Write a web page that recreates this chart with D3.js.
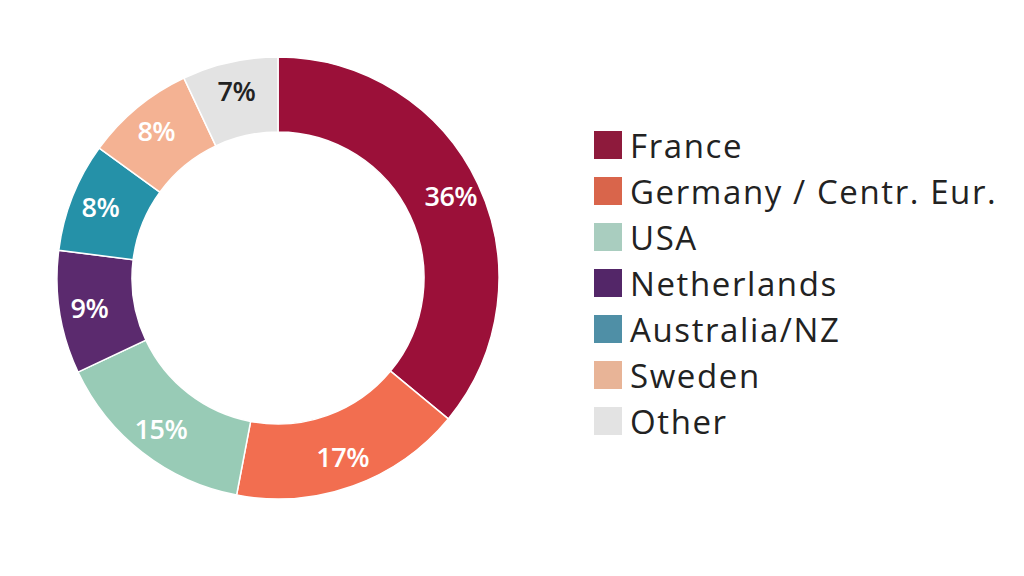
<!DOCTYPE html>
<html><head><meta charset="utf-8">
<script src="https://cdn.jsdelivr.net/npm/d3@7"></script>
<style>body{margin:0;background:#fff}</style></head>
<body><svg id="c" width="1024" height="576"></svg>
<script>
const categories=["France","Germany / Centr. Eur.","USA","Netherlands","Australia/NZ","Sweden","Other"];
const values=[36,17,15,9,8,8,7];
const colors=["#9B1039","#F26E50","#98CBB6","#5B2A6E","#2591A8","#F4B293","#E3E3E3"];
const legendColors=["#8E1A3C","#D9654B","#A9CDBF","#532668","#4F8FA6","#E8B497","#E3E3E3"];
const labelColors=["#fff","#fff","#fff","#fff","#fff","#fff","#222"];
const svg=d3.select("#c");
const g=svg.append("g").attr("transform","translate(278,278)");
const pie=d3.pie().sort(null).value(d=>d);
const arc=d3.arc().innerRadius(146).outerRadius(221);
const lab=d3.arc().innerRadius(191).outerRadius(191);
const arcs=pie(values);
g.selectAll("path").data(arcs).join("path").attr("d",arc).attr("fill",(d,i)=>colors[i]).attr("stroke","#fff").attr("stroke-width",1.5);
g.selectAll("text").data(arcs).join("text").attr("transform",d=>`translate(${lab.centroid(d)})`)
 .attr("text-anchor","middle").attr("dy","0.36em").attr("font-family","'Open Sans', sans-serif")
 .attr("font-weight","600").attr("font-size",27).attr("letter-spacing",-0.5).attr("fill",(d,i)=>labelColors[i]).text(d=>d.data+"%");
const y=d3.scaleBand().domain(categories).range([123,445]);
const lg=svg.append("g");
lg.selectAll("rect").data(categories).join("rect").attr("x",594).attr("y",d=>y(d)+8).attr("width",28).attr("height",28).attr("fill",(d,i)=>legendColors[i]);
lg.selectAll("text").data(categories).join("text").attr("x",630).attr("y",d=>y(d)+y.bandwidth()/2).attr("dy","0.35em")
 .attr("font-family","'Open Sans', sans-serif").attr("font-size",33).attr("letter-spacing",1.6).attr("fill","#222").text(d=>d);
</script></body></html>
